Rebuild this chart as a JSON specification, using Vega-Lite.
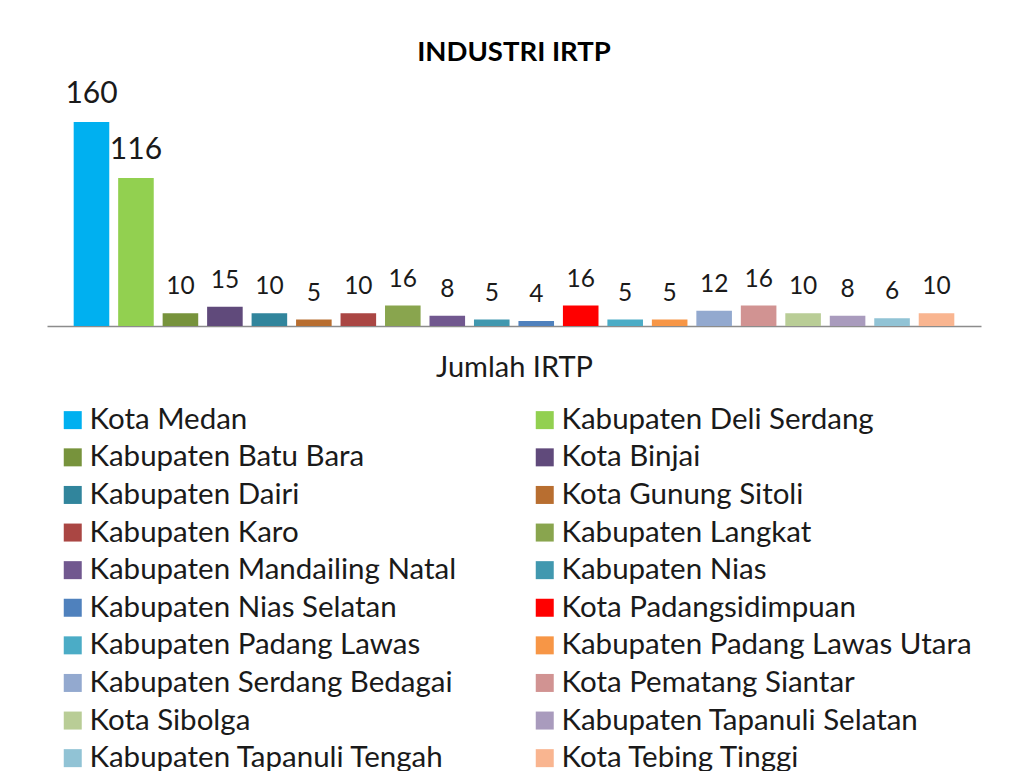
{
  "$schema": "https://vega.github.io/schema/vega-lite/v6.json",
  "autosize": {"type": "none"},
  "width": 934,
  "height": 236,
  "padding": {"left": 47, "top": 90, "right": 30, "bottom": 445},
  "background": "white",
  "config": {"view": {"stroke": null}, "font": "Lato"},
  "title": {"text": "INDUSTRI IRTP", "fontSize": 27.5, "font": "Lato", "fontWeight": "bold", "color": "#000000", "anchor": "middle", "offset": 12},
  "data": {"values": [
    {"wilayah": "Kota Medan", "jumlah": 160},
    {"wilayah": "Kabupaten Deli Serdang", "jumlah": 116},
    {"wilayah": "Kabupaten Batu Bara", "jumlah": 10},
    {"wilayah": "Kota Binjai", "jumlah": 15},
    {"wilayah": "Kabupaten Dairi", "jumlah": 10},
    {"wilayah": "Kota Gunung Sitoli", "jumlah": 5},
    {"wilayah": "Kabupaten Karo", "jumlah": 10},
    {"wilayah": "Kabupaten Langkat", "jumlah": 16},
    {"wilayah": "Kabupaten Mandailing Natal", "jumlah": 8},
    {"wilayah": "Kabupaten Nias", "jumlah": 5},
    {"wilayah": "Kabupaten Nias Selatan", "jumlah": 4},
    {"wilayah": "Kota Padangsidimpuan", "jumlah": 16},
    {"wilayah": "Kabupaten Padang Lawas", "jumlah": 5},
    {"wilayah": "Kabupaten Padang Lawas Utara", "jumlah": 5},
    {"wilayah": "Kabupaten Serdang Bedagai", "jumlah": 12},
    {"wilayah": "Kota Pematang Siantar", "jumlah": 16},
    {"wilayah": "Kota Sibolga", "jumlah": 10},
    {"wilayah": "Kabupaten Tapanuli Selatan", "jumlah": 8},
    {"wilayah": "Kabupaten Tapanuli Tengah", "jumlah": 6},
    {"wilayah": "Kota Tebing Tinggi", "jumlah": 10}
  ]},
  "encoding": {
    "x": {
      "field": "wilayah", "type": "nominal", "sort": null,
      "scale": {"paddingInner": 0.2, "paddingOuter": 0.6},
      "axis": {"title": "Jumlah IRTP", "labels": false, "ticks": false, "domainColor": "#8c8c8c", "domainWidth": 1.5, "titleFontSize": 29, "titleFont": "Lato", "titleFontWeight": "normal", "titleColor": "#1a1a1a", "titlePadding": 27, "titleBaseline": "top"}
    },
    "y": {"field": "jumlah", "type": "quantitative", "scale": {"domain": [0, 185]}, "axis": null}
  },
  "layer": [
    {
      "mark": {"type": "bar"},
      "encoding": {
        "color": {
          "field": "wilayah", "type": "nominal",
          "scale": {
            "domain": ["Kota Medan", "Kabupaten Batu Bara", "Kabupaten Dairi", "Kabupaten Karo", "Kabupaten Mandailing Natal", "Kabupaten Nias Selatan", "Kabupaten Padang Lawas", "Kabupaten Serdang Bedagai", "Kota Sibolga", "Kabupaten Tapanuli Tengah", "Kabupaten Deli Serdang", "Kota Binjai", "Kota Gunung Sitoli", "Kabupaten Langkat", "Kabupaten Nias", "Kota Padangsidimpuan", "Kabupaten Padang Lawas Utara", "Kota Pematang Siantar", "Kabupaten Tapanuli Selatan", "Kota Tebing Tinggi"],
            "range": ["#00B0F0", "#77933C", "#31859C", "#AA4643", "#71588F", "#4F81BD", "#4BACC6", "#93A9CF", "#B9CD96", "#91C3D5", "#92D050", "#604A7B", "#B86E30", "#89A54E", "#4198AF", "#FF0000", "#F79646", "#D19392", "#A99BBD", "#F9B590"]
          },
          "legend": {
            "title": null, "orient": "none", "legendX": 11, "legendY": 315, "columns": 2,
            "symbolType": "square", "symbolSize": 324, "symbolStrokeWidth": 0,
            "labelFontSize": 29.5, "labelFont": "Lato", "labelColor": "#1a1a1a", "labelLimit": 600,
            "labelOffset": 2, "rowPadding": 6.6, "columnPadding": 73
          }
        }
      }
    },
    {
      "mark": {"type": "text", "baseline": "alphabetic", "dy": -19, "color": "#1a1a1a", "font": "Lato"},
      "encoding": {
        "text": {"field": "jumlah", "type": "quantitative"},
        "size": {"condition": {"test": "datum.jumlah > 100", "value": 30}, "value": 24.5}
      }
    }
  ]
}
